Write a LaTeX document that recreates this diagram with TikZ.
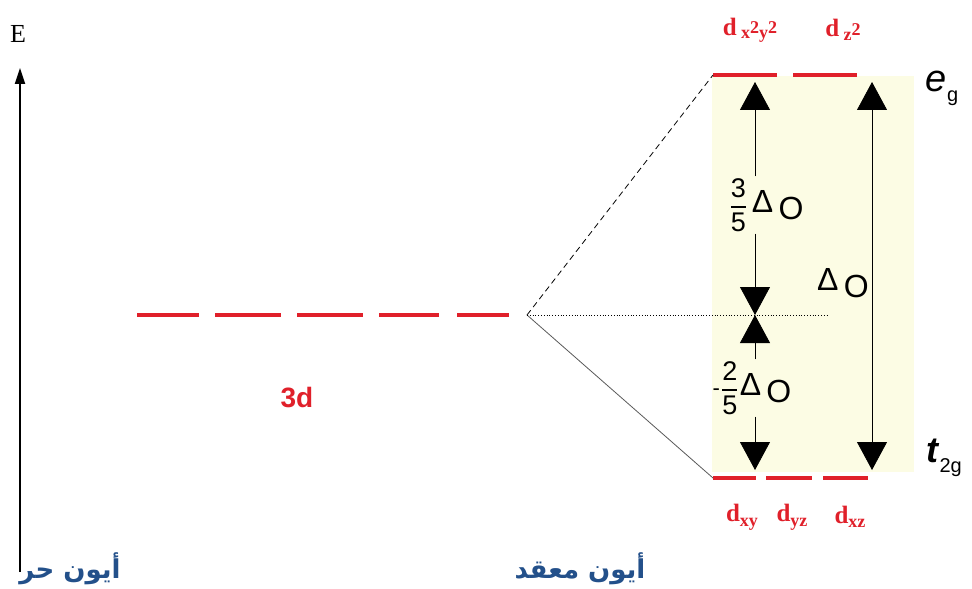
\documentclass[tikz,border=0pt]{standalone}
\usepackage{amsmath}
\usepackage{fontspec}
\usepackage{tikz}
\usetikzlibrary{arrows.meta,positioning,calc}
\usepackage{xcolor}
\TeXXeTstate=1
\newfontfamily\arabicfont[Script=Arabic]{DejaVu Sans}
\newfontfamily\arialfont{Liberation Sans}
\newfontfamily\timesfont{Liberation Serif}
\definecolor{lvlred}{HTML}{E0202A}
\definecolor{ionblue}{HTML}{23508A}
\definecolor{splitbg}{HTML}{FCFCE4}
\newcommand{\DeltaO}{{\fontsize{16}{18}\selectfont Δ\,\raisebox{-0.45ex}{O}}}
\newcommand{\spfrac}[2]{$\genfrac{}{}{0.8pt}{0}{\mbox{\fontsize{13.5}{14}\selectfont#1}}{\mbox{\fontsize{13.5}{14}\selectfont#2}}$}

\begin{document}
\begin{tikzpicture}[x=0.5pt,y=-0.5pt,
  level/.style={lvlred,line width=2pt},
  bigtip/.style={-{Triangle[width=15pt,length=14pt]}},
  bigboth/.style={{Triangle[width=15pt,length=14pt]}-{Triangle[width=15pt,length=14pt]}},
  orblabel/.style={lvlred,font=\timesfont\bfseries\fontsize{12.5}{14}\selectfont,inner sep=1pt},
  ionlabel/.style={ionblue,font=\arabicfont\bfseries\fontsize{13}{15}\selectfont}]
 \useasboundingbox (0,0) rectangle (972,588);
 \fill[splitbg] (712,76) rectangle (914,472);
 % energy axis
 \coordinate (axbot) at (20,572);
 \coordinate (axtop) at (20,68);
 \draw[line width=1pt,-{Triangle[width=5pt,length=8pt]}] (axbot) -- (axtop);
 \node[font=\timesfont\fontsize{13}{15}\selectfont] (E) at (18,34) {E};
 % free ion 3d
 \foreach \a/\b in {137/199,215/281,297/363,379/439,457/509}
   \draw[level] (\a,315) -- (\b,315);
 \coordinate (apex) at (527,315);
 \node[lvlred,font=\arialfont\bfseries\fontsize{14}{16}\selectfont] (d3) at (297,398) {3d};
 % split levels
 \draw[level] (713,75) coordinate (eg1) -- (777,75);
 \draw[level] (793,75) -- (857,75) coordinate (eg2);
 \draw[level] (713,478) coordinate (t1) -- (756,478);
 \draw[level] (766,478) -- (812,478);
 \draw[level] (823,478) -- (868,478) coordinate (t3);
 \coordinate (bary) at (828,315);
 \draw[densely dashed,thin] (apex) -- (eg1);
 \draw[gray!70!black,thin] (apex) -- (t1);
 \draw[densely dotted,thin] (apex) -- (bary);
 % orbital labels
 \node[orblabel] (dx2y2) at (750,30) {d\,\raisebox{-0.3ex}{\fontsize{9}{10}\selectfont x\raisebox{0.6ex}{2}y\raisebox{0.6ex}{2}}};
 \node[orblabel] (dz2) at (843,30) {d\,\raisebox{-0.3ex}{\fontsize{9}{10}\selectfont z\raisebox{0.6ex}{2}}};
 \node[orblabel] (dxy) at (742,517) {d\raisebox{-0.4ex}{\fontsize{9}{10}\selectfont xy}};
 \node[orblabel] (dyz) at (792,517) {d\raisebox{-0.4ex}{\fontsize{9}{10}\selectfont yz}};
 \node[orblabel] (dxz) at (850,517) {d\raisebox{-0.4ex}{\fontsize{9}{10}\selectfont xz}};
 \node[font=\arialfont\fontsize{19}{21}\selectfont] (egl) at (942,88) {\textit{e}\raisebox{-0.5ex}{\fontsize{10}{12}\selectfont g}};
 \node[font=\arialfont\fontsize{18}{20}\selectfont] (t2gl) at (944,458) {\textit{\textbf{t}}\raisebox{-0.5ex}{\fontsize{10}{12}\selectfont 2g}};
 % splitting arrows
 \coordinate (tA) at (755,82);
 \coordinate (mA) at (755,315);
 \coordinate (bA) at (755,470);
 \coordinate (tB) at (872,82);
 \coordinate (bB) at (872,470);
 \node[font=\arialfont\fontsize{11}{12}\selectfont,inner sep=1pt] (f35) at (766,205) {\spfrac{3}{5}\,\DeltaO};
 \node[font=\arialfont\fontsize{11}{12}\selectfont,inner sep=1pt] (f25) at (752,388) {-\spfrac{2}{5}\DeltaO};
 \node[font=\arialfont,inner sep=1pt] (DO) at (843,283) {\DeltaO};
 \draw[bigtip] (f35.north -| tA) -- (tA);
 \draw[bigtip] (f35.south -| tA) -- (mA);
 \draw[bigtip] (f25.north -| tA) -- (mA);
 \draw[bigtip] (f25.south -| tA) -- (bA);
 \draw[bigboth] (tB) -- (bB);
 % ion labels
 \node[ionlabel] (free) at (70,569) {\beginR أيون حر\endR};
 \node[ionlabel] (complex) at (580,569) {\beginR أيون معقد\endR};
\end{tikzpicture}
\end{document}
